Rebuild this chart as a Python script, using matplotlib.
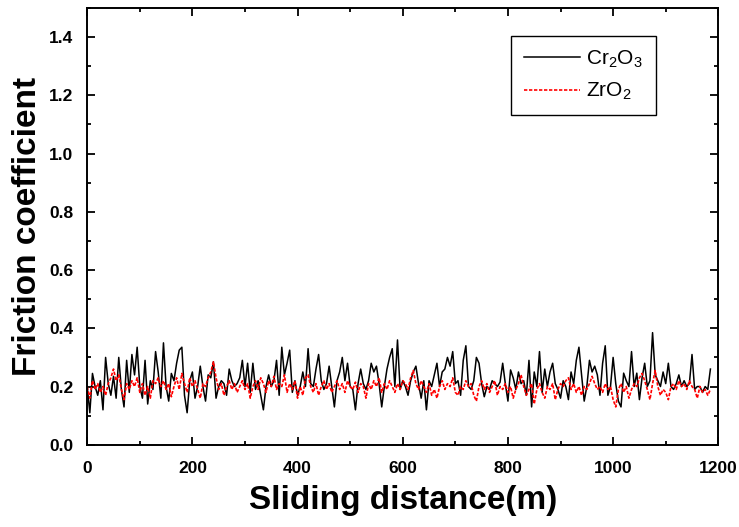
import matplotlib
matplotlib.use("Agg")
import matplotlib.pyplot as plt
from matplotlib.ticker import MultipleLocator
import numpy as np

plt.rcParams['font.family'] = ['Liberation Sans', 'DejaVu Sans']
plt.rcParams['mathtext.fontset'] = 'custom'
plt.rcParams['mathtext.rm'] = 'Liberation Sans'
plt.rcParams['mathtext.it'] = 'Liberation Sans'

# sampling step of the read-off values (m)
step = 5

# friction coefficient, Cr2O3 coating (every 5 m, from 0 m)
cr2o3 = [
    0.20, 0.11, 0.245, 0.20, 0.17, 0.22, 0.12, 0.30, 0.21, 0.17, 0.235, 0.16, 0.30, 0.19, 0.13, 0.29, 0.18, 0.31, 0.24, 0.335,
    0.20, 0.16, 0.29, 0.14, 0.22, 0.19, 0.32, 0.25, 0.16, 0.35, 0.20, 0.15, 0.245, 0.22, 0.28, 0.325, 0.335, 0.17, 0.11, 0.22,
    0.25, 0.16, 0.20, 0.27, 0.20, 0.15, 0.24, 0.23, 0.285, 0.16, 0.20, 0.22, 0.21, 0.17, 0.26, 0.22, 0.20, 0.21, 0.23, 0.29,
    0.20, 0.28, 0.18, 0.28, 0.19, 0.22, 0.17, 0.12, 0.20, 0.24, 0.20, 0.22, 0.29, 0.17, 0.335, 0.24, 0.28, 0.325, 0.18, 0.22,
    0.17, 0.20, 0.25, 0.20, 0.33, 0.21, 0.20, 0.26, 0.31, 0.22, 0.19, 0.21, 0.27, 0.20, 0.13, 0.22, 0.25, 0.30, 0.22, 0.28,
    0.20, 0.19, 0.12, 0.21, 0.26, 0.21, 0.19, 0.22, 0.28, 0.25, 0.27, 0.21, 0.13, 0.20, 0.26, 0.30, 0.33, 0.20, 0.36, 0.19,
    0.22, 0.20, 0.17, 0.22, 0.25, 0.27, 0.21, 0.16, 0.22, 0.12, 0.22, 0.20, 0.24, 0.28, 0.20, 0.25, 0.26, 0.30, 0.27, 0.32,
    0.21, 0.22, 0.17, 0.29, 0.34, 0.20, 0.19, 0.22, 0.30, 0.28, 0.21, 0.165, 0.20, 0.19, 0.22, 0.21, 0.20, 0.215, 0.28, 0.21,
    0.15, 0.257, 0.23, 0.19, 0.25, 0.21, 0.22, 0.17, 0.29, 0.13, 0.25, 0.20, 0.32, 0.18, 0.26, 0.20, 0.25, 0.28, 0.21, 0.19,
    0.16, 0.22, 0.20, 0.155, 0.25, 0.21, 0.29, 0.335, 0.24, 0.15, 0.20, 0.29, 0.25, 0.27, 0.24, 0.17, 0.28, 0.34, 0.17, 0.20,
    0.30, 0.21, 0.15, 0.13, 0.246, 0.22, 0.20, 0.32, 0.20, 0.246, 0.155, 0.23, 0.28, 0.20, 0.22, 0.385, 0.24, 0.22, 0.20, 0.25,
    0.21, 0.28, 0.20, 0.19, 0.21, 0.24, 0.20, 0.22, 0.20, 0.21, 0.31, 0.19, 0.20, 0.20, 0.18, 0.20, 0.19, 0.26,
]

# friction coefficient, ZrO2 coating
zro2 = [
    0.20, 0.16, 0.22, 0.19, 0.21, 0.18, 0.20, 0.17, 0.21, 0.23, 0.26, 0.22, 0.24, 0.19, 0.155, 0.21, 0.19, 0.22, 0.20, 0.23,
    0.18, 0.21, 0.17, 0.20, 0.16, 0.22, 0.21, 0.23, 0.20, 0.22, 0.19, 0.21, 0.165, 0.20, 0.23, 0.19, 0.245, 0.21, 0.18, 0.23,
    0.20, 0.22, 0.19, 0.16, 0.21, 0.20, 0.23, 0.25, 0.285, 0.23, 0.19, 0.21, 0.17, 0.20, 0.22, 0.19, 0.21, 0.18, 0.20, 0.22,
    0.19, 0.21, 0.16, 0.20, 0.22, 0.19, 0.23, 0.21, 0.18, 0.22, 0.20, 0.235, 0.19, 0.21, 0.20, 0.24, 0.18, 0.21, 0.19, 0.22,
    0.16, 0.20, 0.17, 0.23, 0.24, 0.20, 0.18, 0.21, 0.17, 0.20, 0.22, 0.19, 0.21, 0.18, 0.20, 0.22, 0.19, 0.21, 0.18, 0.22,
    0.20, 0.19, 0.215, 0.18, 0.21, 0.20, 0.16, 0.21, 0.19, 0.22, 0.20, 0.23, 0.18, 0.21, 0.19, 0.22, 0.20, 0.18, 0.21, 0.19,
    0.22, 0.21, 0.19, 0.23, 0.255, 0.21, 0.19, 0.22, 0.20, 0.18, 0.21, 0.17, 0.19, 0.16, 0.20, 0.22, 0.19, 0.21, 0.20, 0.23,
    0.18, 0.17, 0.20, 0.19, 0.22, 0.20, 0.21, 0.17, 0.15, 0.20, 0.22, 0.19, 0.21, 0.18, 0.20, 0.22, 0.17, 0.20, 0.19, 0.21,
    0.18, 0.20, 0.16, 0.19, 0.21, 0.24, 0.20, 0.17, 0.19, 0.21, 0.14, 0.19, 0.21, 0.18, 0.16, 0.20, 0.19, 0.21, 0.155, 0.19,
    0.21, 0.20, 0.22, 0.23, 0.19, 0.21, 0.18, 0.20, 0.17, 0.20, 0.19, 0.21, 0.235, 0.21, 0.19, 0.20, 0.18, 0.21, 0.19, 0.20,
    0.155, 0.13, 0.19, 0.21, 0.18, 0.20, 0.16, 0.19, 0.21, 0.20, 0.23, 0.245, 0.22, 0.19, 0.155, 0.21, 0.255, 0.20, 0.17, 0.19,
    0.18, 0.155, 0.20, 0.21, 0.19, 0.22, 0.20, 0.21, 0.19, 0.22, 0.20, 0.19, 0.16, 0.20, 0.18, 0.19, 0.17, 0.19,
]

dist_cr = np.arange(len(cr2o3)) * step
dist_zr = np.arange(len(zro2)) * step

fig = plt.figure(figsize=(7.39, 5.27), dpi=100)
ax = fig.add_axes([0.118, 0.156, 0.854, 0.829])

ax.plot(dist_cr, cr2o3, color='black', linewidth=1.1, label=r'Cr$_2$O$_3$')
ax.plot(dist_zr, zro2, color='red', linewidth=1.2, linestyle=(0, (2, 1)), label=r'ZrO$_2$')

ax.set_xlim(0, 1200)
ax.set_ylim(0, 1.5)
ax.xaxis.set_major_locator(MultipleLocator(200))
ax.xaxis.set_minor_locator(MultipleLocator(100))
ax.yaxis.set_major_locator(MultipleLocator(0.2))
ax.yaxis.set_minor_locator(MultipleLocator(0.1))
ax.yaxis.set_major_formatter(plt.FuncFormatter(lambda v, p: f'{v:.1f}'))

ax.tick_params(which='both', direction='in', top=True, right=True, width=1.3)
ax.tick_params(which='major', length=5.5, labelsize=12.5)
ax.tick_params(which='minor', length=3)
ax.tick_params(axis='x', which='major', pad=12)
ax.tick_params(axis='y', which='major', pad=10)
for lab in ax.get_xticklabels() + ax.get_yticklabels():
    lab.set_fontweight('bold')
for sp in ax.spines.values():
    sp.set_linewidth(1.4)

ax.set_xlabel('Sliding distance(m)', fontsize=24, fontweight='bold', labelpad=6)
ax.set_ylabel('Friction coefficient', fontsize=24, fontweight='bold', labelpad=4)

leg = ax.legend(loc='upper left', bbox_to_anchor=(0.672, 0.936), borderaxespad=0,
                fontsize=15, fancybox=False, edgecolor='black', framealpha=1,
                handlelength=2.7, handletextpad=0.3, borderpad=0.6, labelspacing=0.55)
leg.get_frame().set_linewidth(1.0)

fig.savefig('out.png', dpi=100)
